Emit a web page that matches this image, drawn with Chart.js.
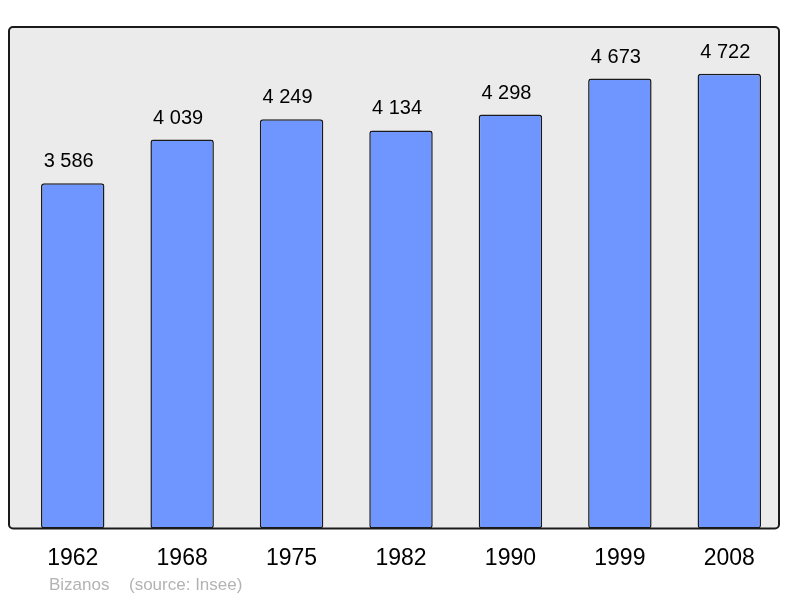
<!DOCTYPE html>
<html>
<head>
<meta charset="utf-8">
<script src="https://cdn.jsdelivr.net/npm/chart.js@4"></script>
<style>
  html, body { margin: 0; padding: 0; background: #ffffff; }
  #wrap { width: 800px; height: 598px; }
</style>
</head>
<body>
<div id="wrap"><canvas id="graficoPopulacao" width="800" height="598"></canvas></div>
<script>
// Dados do gráfico
let anos = ['1962', '1968', '1975', '1982', '1990', '1999', '2008'];
let populacao = [3586, 4039, 4249, 4134, 4298, 4673, 4722];
let nomeComuna = 'Bizanos';
let fonte = '(source: Insee)';

// separador de milhar com espaço
function formatar(n) {
  return String(n).replace(/\B(?=(\d{3})+(?!\d))/g, ' ');
}

// Fundo cinza e moldura arredondada
const moldura = {
  id: 'moldura',
  beforeDraw(chart) {
    const ctx = chart.ctx, a = chart.chartArea;
    const x = a.left - 9, y = a.top, w = (a.right - 5) - x, h = a.bottom - a.top;
    ctx.save();
    ctx.beginPath();
    ctx.roundRect(x, y, w, h, 4);
    ctx.fillStyle = '#ebebeb';
    ctx.fill();
    ctx.restore();
  },
  afterDatasetsDraw(chart) {
    const ctx = chart.ctx, a = chart.chartArea;
    const x = a.left - 9, y = a.top, w = (a.right - 5) - x, h = a.bottom - a.top;
    ctx.save();
    ctx.beginPath();
    ctx.roundRect(x, y, w, h, 4);
    ctx.lineWidth = 2;
    ctx.strokeStyle = '#1a1a1a';
    ctx.stroke();

    // valores acima das barras
    const meta = chart.getDatasetMeta(0);
    ctx.fillStyle = '#000000';
    ctx.font = '20px "Liberation Sans", Arial, sans-serif';
    ctx.textAlign = 'center';
    ctx.textBaseline = 'alphabetic';
    meta.data.forEach(function(bar, i) {
      ctx.fillText(formatar(populacao[i]), bar.x - 4, bar.y - 16);
    });

    // rodapé
    ctx.fillStyle = '#b3b3b3';
    ctx.font = '17px "Liberation Sans", Arial, sans-serif';
    ctx.textAlign = 'left';
    ctx.fillText(nomeComuna, 49, 590);
    ctx.fillText(fonte, 129, 590);
    ctx.restore();
  }
};

var ctx = document.getElementById('graficoPopulacao').getContext('2d');
var chartPopulacao = new Chart(ctx, {
  type: 'bar',
  data: {
    labels: anos,
    datasets: [{
      label: 'Population',
      data: populacao,
      backgroundColor: '#6f96ff',
      borderColor: '#1a1a1a',
      borderWidth: 1.5,
      borderRadius: 3,
      borderSkipped: false,
      barPercentage: 0.58,
      categoryPercentage: 1
    }]
  },
  options: {
    responsive: false,
    animation: { duration: 0 }, // Desativa a animação
    layout: { padding: { left: 18, right: 16, top: 27, bottom: 10 } },
    plugins: {
      legend: { display: false },
      tooltip: { enabled: false }
    },
    scales: {
      x: {
        grid: { display: false, drawTicks: false },
        border: { display: false },
        ticks: {
          color: '#000000',
          padding: 16,
          font: { family: '"Liberation Sans", Arial, sans-serif', size: 23 }
        }
      },
      y: {
        display: false,
        min: 0,
        max: 5208
      }
    }
  },
  plugins: [moldura]
});
</script>
</body>
</html>
